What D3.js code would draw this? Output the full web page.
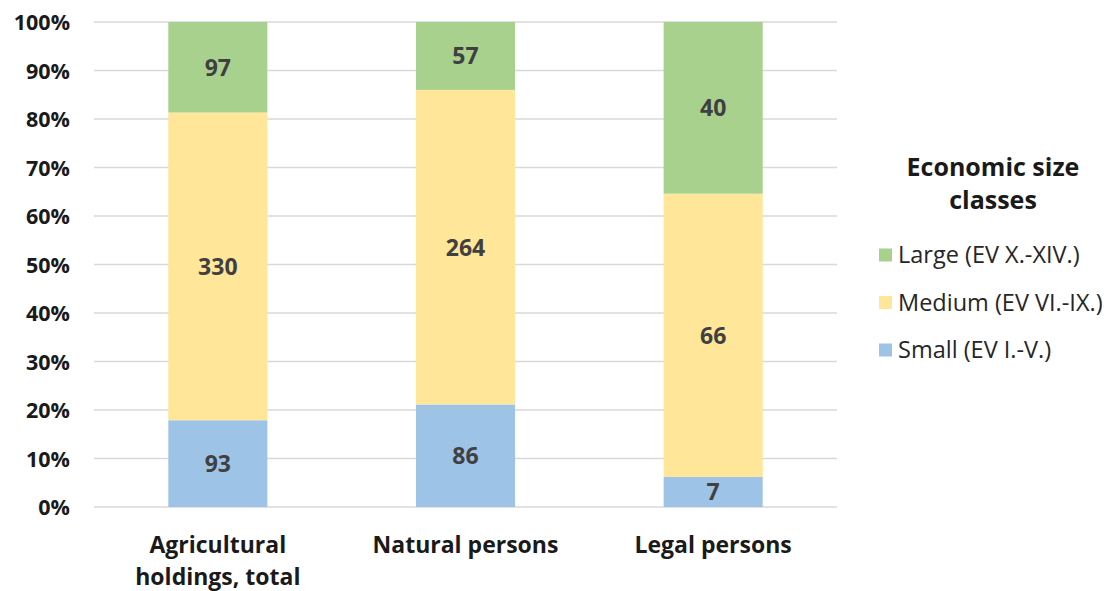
<!DOCTYPE html>
<html>
<head>
<meta charset="utf-8">
<script src="https://cdn.jsdelivr.net/npm/d3@7"></script>
<style>
  body { margin: 0; background: #fff; }
  svg text { font-family: "Open Sans", Lato, sans-serif; }
</style>
</head>
<body>
<svg id="canvas" width="1112" height="591"></svg>
<script>
'use strict';

const categories = [['Agricultural', 'holdings, total'], ['Natural persons'], ['Legal persons']];
const small = [93, 86, 7];
const medium = [330, 264, 66];
const large = [97, 57, 40];
const seriesNames = ['Small (EV I.-V.)', 'Medium (EV VI.-IX.)', 'Large (EV X.-XIV.)'];
const seriesColors = ['#9dc3e6', '#ffe699', '#a9d18e'];
const yTicks = [0, 0.1, 0.2, 0.3, 0.4, 0.5, 0.6, 0.7, 0.8, 0.9, 1];

(function() {
const svg = d3.select('#canvas');
const plotLeft = 94, plotRight = 837, plotTop = 22, plotBottom = 507;

const rows = categories.map(function(c, i) {
    return { key: i, small: small[i], medium: medium[i], large: large[i] };
});

const stack = d3.stack()
    .keys(['small', 'medium', 'large'])
    .offset(d3.stackOffsetExpand);
const layers = stack(rows);

const x = d3.scaleBand()
    .domain(rows.map(function(d) { return d.key; }))
    .range([plotLeft, plotRight])
    .paddingInner(0.6)
    .paddingOuter(0.3);

const y = d3.scaleLinear()
    .domain([0, 1])
    .range([plotBottom, plotTop]);

// gridlines
svg.append('g')
    .selectAll('line')
    .data(yTicks)
    .enter().append('line')
        .attr('x1', plotLeft)
        .attr('x2', plotRight)
        .attr('y1', function(d) { return y(d); })
        .attr('y2', function(d) { return y(d); })
        .attr('stroke', '#d9d9d9')
        .attr('stroke-width', 1.5);

// y axis labels
const yAxis = svg.append('g')
    .attr('transform', 'translate(' + (plotLeft - 21) + ',0)')
    .call(d3.axisLeft(y).tickValues(yTicks).tickFormat(d3.format('.0%')).tickSize(0));
yAxis.select('.domain').remove();
yAxis.selectAll('text')
    .attr('font-size', 21.5)
    .attr('font-weight', 'bold')
    .attr('fill', '#1a1a1a')
    .attr('dy', '0.36em')
    .style('font-family', '"Open Sans", sans-serif');

// bars
const groups = svg.append('g')
    .selectAll('g')
    .data(layers)
    .enter().append('g')
        .attr('fill', function(d, i) { return seriesColors[i]; });

groups.selectAll('rect')
    .data(function(d) { return d; })
    .enter().append('rect')
        .attr('x', function(d) { return x(d.data.key); })
        .attr('width', x.bandwidth())
        .attr('y', function(d) { return y(d[1]); })
        .attr('height', function(d) { return y(d[0]) - y(d[1]); });

// value labels
groups.selectAll('text')
    .data(function(d) { return d.map(function(p) { return { p: p, v: p.data[d.key] }; }); })
    .enter().append('text')
        .attr('x', function(d) { return x(d.p.data.key) + x.bandwidth() / 2; })
        .attr('y', function(d) { return (y(d.p[0]) + y(d.p[1])) / 2; })
        .attr('dy', '0.36em')
        .attr('text-anchor', 'middle')
        .attr('font-size', 23)
        .attr('font-weight', 'bold')
        .attr('fill', '#404040')
        .text(function(d) { return d.v; });

// category labels
const catLabels = svg.append('g')
    .selectAll('text')
    .data(categories)
    .enter().append('text')
        .attr('x', function(d, i) { return x(i) + x.bandwidth() / 2; })
        .attr('y', 553)
        .attr('text-anchor', 'middle')
        .attr('font-size', 23)
        .attr('font-weight', 'bold')
        .attr('fill', '#1a1a1a');

catLabels.selectAll('tspan')
    .data(function(d) { return d; })
    .enter().append('tspan')
        .attr('x', function() { return d3.select(this.parentNode).attr('x'); })
        .attr('dy', function(d, i) { return i === 0 ? 0 : 32; })
        .text(function(d) { return d; });

// legend
const legend = svg.append('g');
legend.append('text')
    .attr('x', 993)
    .attr('y', 176)
    .attr('text-anchor', 'middle')
    .attr('font-size', 25)
    .attr('font-weight', 'bold')
    .attr('fill', '#1a1a1a')
    .selectAll('tspan')
    .data(['Economic size', 'classes'])
    .enter().append('tspan')
        .attr('x', 993)
        .attr('dy', function(d, i) { return i === 0 ? 0 : 33; })
        .text(function(d) { return d; });

const legendOrder = [2, 1, 0];
const items = legend.selectAll('g.item')
    .data(legendOrder)
    .enter().append('g')
        .attr('class', 'item')
        .attr('transform', function(d, i) { return 'translate(879,' + (255 + i * 47.5) + ')'; });

items.append('rect')
    .attr('x', 0)
    .attr('y', -6.5)
    .attr('width', 13)
    .attr('height', 13)
    .attr('fill', function(d) { return seriesColors[d]; });

items.append('text')
    .attr('x', 19)
    .attr('dy', '0.36em')
    .attr('font-size', 23.5)
    .attr('fill', '#262626')
    .text(function(d) { return seriesNames[d]; });
})();
</script>
</body>
</html>
